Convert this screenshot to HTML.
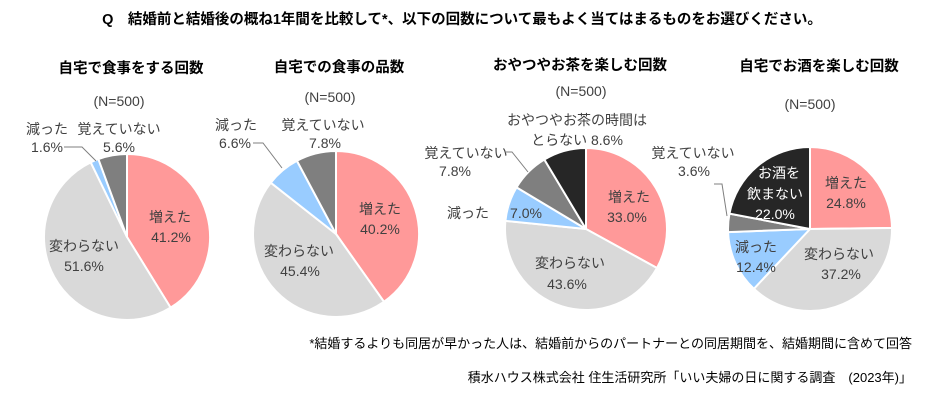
<!DOCTYPE html>
<html><head><meta charset="utf-8">
<style>
html,body{margin:0;padding:0;background:#fff;}
svg{display:block;font-family:"Liberation Sans","Noto Sans CJK JP",sans-serif;}
.t{font-size:14.5px;font-weight:bold;fill:#000;}
.q{font-size:14.5px;font-weight:bold;fill:#000;}
.l{font-size:14px;fill:#404040;}
.w{font-size:14px;fill:#fff;}
.f{font-size:13px;fill:#000;}
</style></head><body>
<svg id="s" width="940" height="407" viewBox="0 0 940 407" xmlns="http://www.w3.org/2000/svg">
<rect width="940" height="407" fill="#fff"/>
<g id="pies"></g>
<text class="q" x="462" y="24" text-anchor="middle">Q　結婚前と結婚後の概ね1年間を比較して*、以下の回数について最もよく当てはまるものをお選びください。</text>

<text class="t" x="131" y="73" text-anchor="middle">自宅で食事をする回数</text>
<text class="t" x="339" y="72" text-anchor="middle">自宅での食事の品数</text>
<text class="t" x="580" y="70" text-anchor="middle">おやつやお茶を楽しむ回数</text>
<text class="t" x="819" y="71" text-anchor="middle">自宅でお酒を楽しむ回数</text>

<g class="l" text-anchor="middle">
<text x="119" y="106">(N=500)</text>
<text x="330" y="102">(N=500)</text>
<text x="581" y="96">(N=500)</text>
<text x="810" y="109">(N=500)</text>

<text x="47" y="134">減った</text><text x="47" y="152">1.6%</text>
<text x="119" y="134">覚えていない</text><text x="119" y="152">5.6%</text>
<text x="170" y="222">増えた</text><text x="171" y="242">41.2%</text>
<text x="84" y="251">変わらない</text><text x="84" y="271">51.6%</text>

<text x="236" y="130">減った</text><text x="235" y="148">6.6%</text>
<text x="323" y="130">覚えていない</text><text x="325" y="148">7.8%</text>
<text x="380" y="214">増えた</text><text x="380" y="234">40.2%</text>
<text x="299" y="256">変わらない</text><text x="300" y="276">45.4%</text>

<text x="577" y="125">おやつやお茶の時間は</text><text x="577" y="145">とらない 8.6%</text>
<text x="466" y="158">覚えていない</text><text x="455" y="176">7.8%</text>
<text x="468" y="218">減った</text><text x="526" y="218">7.0%</text>
<text x="629" y="202">増えた</text><text x="627" y="222">33.0%</text>
<text x="570" y="268">変わらない</text><text x="567" y="289">43.6%</text>

<text x="693" y="158">覚えていない</text><text x="694" y="176">3.6%</text>
<text x="756" y="252">減った</text><text x="756" y="272">12.4%</text>
<text x="846" y="188">増えた</text><text x="846" y="208">24.8%</text>
<text x="839" y="259">変わらない</text><text x="841" y="279">37.2%</text>
</g>
<g class="w" text-anchor="middle">
<text x="779" y="178">お酒を</text><text x="775" y="199">飲まない</text><text x="775" y="219">22.0%</text>
</g>
<g stroke="#7f7f7f" stroke-width="1" fill="none">
<polyline points="64,147 82,147 96,161"/>
<polyline points="253,143 263,143 282,168"/>
<polyline points="505,152 512,152 528,172"/>
<polyline points="714,184 722,184 727,216"/>
</g>
<text class="f" x="912" y="348" text-anchor="end">*結婚するよりも同居が早かった人は、結婚前からのパートナーとの同居期間を、結婚期間に含めて回答</text>
<text class="f" x="912" y="382" text-anchor="end">積水ハウス株式会社 住生活研究所「いい夫婦の日に関する調査　(2023年)」</text>
</svg>
<script>
var cols=["#FF9999","#D9D9D9","#99CCFF","#7F7F7F","#262626"];
var pies=[
 [127,237,83,[41.2,51.6,1.6,5.6]],
 [336,234,83,[40.2,45.4,6.6,7.8]],
 [586,229,81,[33.0,43.6,7.0,7.8,8.6]],
 [810,229,82,[24.8,37.2,12.4,3.6,22.0]]
];
var g=document.getElementById("pies"),h="";
pies.forEach(function(p){
 var cx=p[0],cy=p[1],r=p[2],a=0;
 p[3].forEach(function(v,i){
  var a0=a/100*2*Math.PI,a1=(a+v)/100*2*Math.PI;a+=v;
  var x0=cx+r*Math.sin(a0),y0=cy-r*Math.cos(a0),x1=cx+r*Math.sin(a1),y1=cy-r*Math.cos(a1);
  var lg=v>50?1:0;
  h+='<path d="M'+cx+','+cy+' L'+x0.toFixed(2)+','+y0.toFixed(2)+' A'+r+','+r+' 0 '+lg+' 1 '+x1.toFixed(2)+','+y1.toFixed(2)+' Z" fill="'+cols[i]+'" stroke="#fff" stroke-width="2" stroke-linejoin="round"/>';
 });
});
g.innerHTML=h;
</script>
</body></html>
